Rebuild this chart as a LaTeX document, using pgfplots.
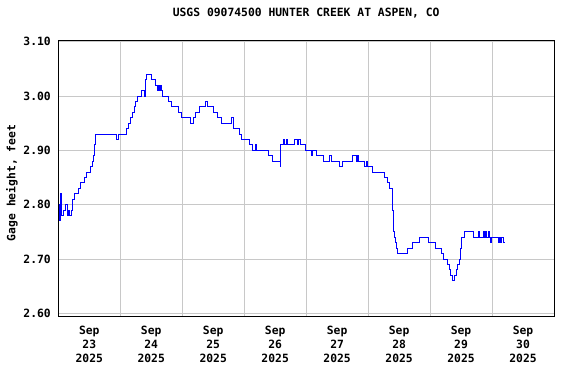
\documentclass[border=0pt]{standalone}
\usepackage{pgfplots}
\pgfplotsset{compat=1.18}
\usepackage{fontspec}
\setmainfont{DejaVu Sans Mono}
\definecolor{gridgray}{HTML}{C8C8C8}
\begin{document}
\begin{tikzpicture}
\begin{axis}[
  scale only axis, width=495.7bp, height=276bp,
  xmin=23, xmax=31, ymin=2.595, ymax=3.103,
  axis line style={black, line width=0.8bp},
  major tick length=0pt, minor tick length=0pt,
  xtick={23.5,24.5,25.5,26.5,27.5,28.5,29.5,30.5},
  xticklabels={Sep\\23\\2025,Sep\\24\\2025,Sep\\25\\2025,Sep\\26\\2025,Sep\\27\\2025,Sep\\28\\2025,Sep\\29\\2025,Sep\\30\\2025},
  minor xtick={24,25,26,27,28,29,30},
  xminorgrids=true, xmajorgrids=false, ymajorgrids=true,
  grid style={gridgray, line width=0.9bp},
  minor grid style={gridgray, line width=0.9bp},
  ytick={2.6,2.7,2.8,2.9,3.0,3.1},
  yticklabels={2.60,2.70,2.80,2.90,3.00,3.10},
  tick label style={font=\bfseries\fontsize{11.4}{14}\selectfont},
  xticklabel style={align=center, yshift=-6.5bp},
  yticklabel style={xshift=-4bp},
  ylabel={Gage height, feet},
  ylabel style={at={(axis description cs:-0.0934,0.482)}, anchor=center, font=\bfseries\fontsize{11.4}{14}\selectfont},
  title={USGS 09074500 HUNTER CREEK AT ASPEN, CO},
  title style={at={(axis description cs:0.5,1.076)}, anchor=center, font=\bfseries\fontsize{11.4}{14}\selectfont},
  clip=true,
]
\addplot[blue, const plot, line width=0.9bp] coordinates {
(23.005,2.80) (23.026,2.77) (23.037,2.82) (23.058,2.78) (23.085,2.79) (23.117,2.80)
(23.145,2.78) (23.171,2.79) (23.182,2.78) (23.214,2.79) (23.235,2.81) (23.257,2.82)
(23.322,2.83) (23.364,2.84) (23.428,2.85) (23.450,2.86) (23.524,2.87) (23.547,2.88)
(23.568,2.89) (23.584,2.91) (23.600,2.93) (23.943,2.92) (23.965,2.93) (24.104,2.94)
(24.136,2.95) (24.168,2.96) (24.190,2.97) (24.223,2.98) (24.244,2.99) (24.276,3.00)
(24.340,3.01) (24.384,3.00) (24.404,3.03) (24.425,3.04) (24.501,3.03) (24.565,3.02)
(24.597,3.01) (24.614,3.02) (24.630,3.01) (24.651,3.02) (24.662,3.01) (24.683,3.00)
(24.779,2.99) (24.823,2.98) (24.931,2.97) (24.984,2.96) (25.133,2.95) (25.177,2.96)
(25.220,2.97) (25.273,2.98) (25.381,2.99) (25.402,2.98) (25.503,2.97) (25.563,2.96)
(25.627,2.95) (25.799,2.96) (25.820,2.94) (25.917,2.93) (25.960,2.92) (26.078,2.91)
(26.131,2.90) (26.174,2.91) (26.190,2.90) (26.399,2.89) (26.452,2.88) (26.581,2.87)
(26.592,2.91) (26.636,2.92) (26.657,2.91) (26.678,2.92) (26.700,2.91) (26.806,2.92)
(26.861,2.91) (26.882,2.92) (26.914,2.91) (26.995,2.90) (27.091,2.89) (27.107,2.90)
(27.167,2.89) (27.273,2.88) (27.369,2.89) (27.402,2.88) (27.542,2.87) (27.585,2.88)
(27.755,2.89) (27.810,2.88) (27.831,2.89) (27.852,2.88) (27.944,2.87) (27.981,2.88)
(27.997,2.87) (28.068,2.86) (28.270,2.85) (28.307,2.84) (28.346,2.83) (28.399,2.79)
(28.405,2.77) (28.410,2.75) (28.431,2.74) (28.442,2.73) (28.454,2.72) (28.479,2.71)
(28.640,2.72) (28.721,2.73) (28.829,2.74) (28.978,2.73) (29.086,2.72) (29.182,2.71)
(29.215,2.70) (29.284,2.69) (29.311,2.68) (29.332,2.67) (29.355,2.66) (29.396,2.67)
(29.419,2.68) (29.440,2.69) (29.472,2.70) (29.488,2.72) (29.509,2.74) (29.552,2.75)
(29.697,2.74) (29.773,2.75) (29.794,2.74) (29.858,2.75) (29.874,2.74) (29.890,2.75)
(29.911,2.74) (29.934,2.75) (29.955,2.74) (29.971,2.73) (29.992,2.74) (30.104,2.73)
(30.120,2.74) (30.136,2.73) (30.159,2.74) (30.180,2.73) (30.211,2.73)
};
\node[red, font=\bfseries\fontsize{11.4}{14}\selectfont, anchor=center] at (axis description cs:0.5,-0.228) {---- Provisional Data Subject to Revision ----};
\end{axis}
\pgfresetboundingbox
\path (current axis.south west) ++(-58.3bp,-68bp) rectangle ++(576bp,384bp);
\end{tikzpicture}
\end{document}
